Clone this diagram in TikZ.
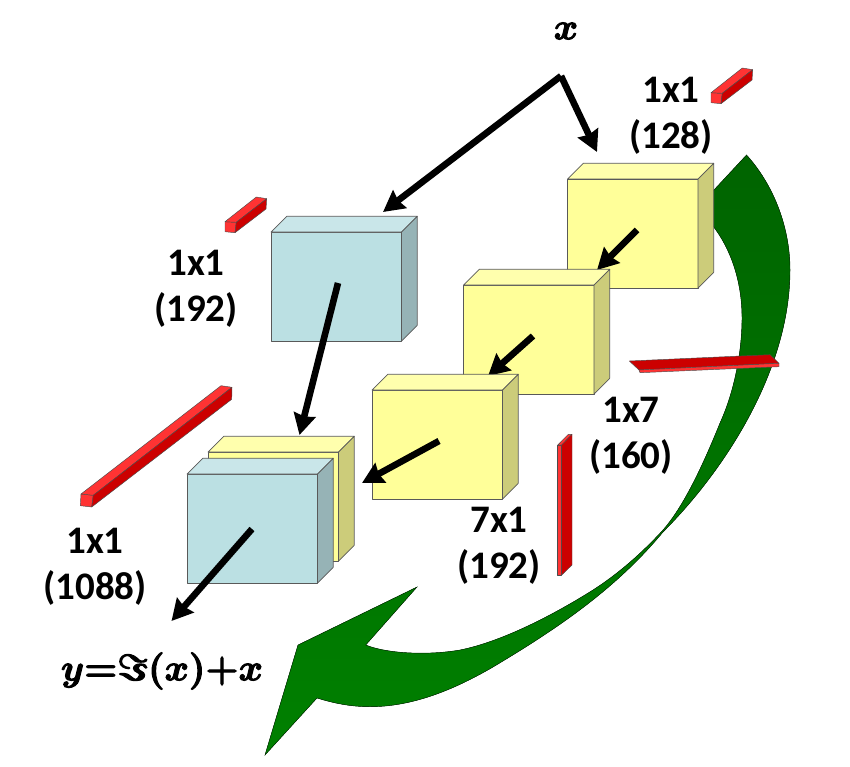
\documentclass[tikz,border=0pt]{standalone}
\usepackage{fontspec}
\usepackage{graphicx}
\setmainfont{Carlito}
\usetikzlibrary{arrows.meta}
\definecolor{yf}{HTML}{FFFF99}\definecolor{yt}{HTML}{FFFFAD}\definecolor{ys}{HTML}{CCCC7A}
\definecolor{bf}{HTML}{BBE0E3}\definecolor{bt}{HTML}{C9E6E9}\definecolor{bs}{HTML}{96B3B6}
\definecolor{rl}{HTML}{FF3333}\definecolor{rd}{HTML}{CC0000}
\definecolor{gtop}{HTML}{006400}\definecolor{gbot}{HTML}{008000}
\tikzset{
  facee/.style={draw=black!65,line width=0.7pt,line join=round},
  redf/.style={draw=black!70,line width=0.45pt,line join=round},
  flow/.style={line width=6.6pt,-{Stealth[length=21pt,width=22pt,inset=2pt]}},
  lab/.style={font=\fontsize{39}{46}\selectfont\bfseries,align=center,inner sep=0pt,text=black},
}
\newcommand{\heavy}[1]{\special{pdf:code 2 Tr 0.28 w}#1\special{pdf:code 0 Tr 1 w}}
% front colour, top colour, side colour, x, y of front top left
\newcommand{\boxthree}[5]{%
  \fill[#1,facee] (#4,#5) rectangle ++(130.5,109);
  \fill[#2,facee] (#4,#5) -- ++(15.7,-15.7) -- ++(130.5,0) -- ++(-15.7,15.7) -- cycle;
  \fill[#3,facee] (#4+130.5,#5) -- ++(15.7,-15.7) -- ++(0,109) -- ++(-15.7,15.7) -- cycle;
}
\newcommand{\shortbar}[2]{%
  \begin{scope}[shift={(#1,#2)}]
  \fill[rl,redf] (711,92.7) -- (722.3,93.3) -- (721,103.7) -- (711,102.7) -- cycle;
  \fill[rl,redf] (711,92.7) -- (742.3,68) -- (752.7,69.7) -- (722.3,93.3) -- cycle;
  \fill[rd,redf] (722.3,93.3) -- (752.7,69.7) -- (752,80) -- (721,103.7) -- cycle;
  \end{scope}
}
\begin{document}
\begin{tikzpicture}[x=1pt,y=-1pt]
\useasboundingbox (0,0) rectangle (850,767);
% green arrow
\fill[top color=gtop,bottom color=gbot,draw=black!60!gtop,line width=0.4pt,line join=miter]
  (746.5,155) .. controls (772,183) and (790,225) .. (790,270)
  .. controls (790,370) and (725,470) .. (663,532)
  .. controls (615,590) and (555,630) .. (493,667)
  .. controls (450,692) and (410,706.7) .. (370,706.7)
  .. controls (350,706.7) and (333,703) .. (317,698)
  -- (265,755) -- (298,645) -- (417,587) -- (365.7,645)
  .. controls (385,653) and (425,656) .. (460,650)
  .. controls (500,642) and (550,617) .. (593,590)
  .. controls (618,574) and (642,553) .. (663,530)
  .. controls (685,505) and (705,460) .. (720,423)
  .. controls (735,390) and (742,350) .. (742,318)
  .. controls (742,280) and (730,248) .. (713,226)
  -- (713,191) -- cycle;
% boxes and bars
\shortbar{0}{0}
\shortbar{-486}{129}
\fill[rl,redf] (81,494) -- (93.3,495.3) -- (91.7,507) -- (80.3,505.7) -- cycle;
\fill[rl,redf] (81,494) -- (221,385.7) -- (232,387.3) -- (93.3,495.3) -- cycle;
\fill[rd,redf] (93.3,495.3) -- (232,387.3) -- (231.7,399.3) -- (91.7,507) -- cycle;
\boxthree{yf}{yt}{ys}{567.5}{179}
\boxthree{bf}{bt}{bs}{271}{232}
\coordinate (root) at (561,76);
\coordinate (bluetop) at (383,212);
\coordinate (yeltop) at (597,152);
\draw[flow] (root) -- (bluetop);
\draw[flow] (root) -- (yeltop);
\coordinate (a1s) at (637,230);\coordinate (a1e) at (597,270);
\draw[flow] (a1s) -- (a1e);
\boxthree{yf}{yt}{ys}{463.5}{285}
\coordinate (a2s) at (533,336);\coordinate (a2e) at (488,376);
\draw[flow] (a2s) -- (a2e);
\boxthree{yf}{yt}{ys}{372}{390}
\boxthree{yf}{yt}{ys}{208}{452}
\boxthree{bf}{bt}{bs}{187}{474}
\coordinate (a3s) at (439,441);\coordinate (a3e) at (362,483);
\draw[flow] (a3s) -- (a3e);
\coordinate (a4s) at (338,283);\coordinate (a4e) at (299.5,435);
\draw[flow] (a4s) -- (a4e);
\coordinate (a5s) at (252,529);\coordinate (a5e) at (171.5,621);
\draw[flow] (a5s) -- (a5e);
% flat bars
\fill[rd,redf] (629.3,361) -- (770,354.7) -- (779,363.3) -- (639,370) -- cycle;
\fill[rl,redf] (639,370) -- (779,363.3) -- (779,366.7) -- (640,372.7) -- cycle;
\fill[rl,redf] (557.7,445) -- (561.7,445) -- (561.7,575) -- (557.7,575) -- cycle;
\fill[rl,redf] (557.7,445) -- (568.3,434.3) -- (572,434.3) -- (561.7,445) -- cycle;
\fill[rd,redf] (561.7,445) -- (572,434.3) -- (572,565) -- (561.7,575) -- cycle;
% labels
\node[lab] (l1) at (671,116) {1x1\\(128)};
\node[lab] (l2) at (196,289) {1x1\\(192)};
\node[lab] (l3) at (631,436) {1x7\\(160)};
\node[lab] (l4) at (499,546) {7x1\\(192)};
\node[lab] (l5) at (95,567) {1x1\\(1088)};
\node[inner sep=0pt] (xin) at (566,31) {\scalebox{3.7}{\boldmath\heavy{$x$}}};
\node[inner sep=0pt] (yout) at (162,671) {\scalebox{3.7}{\boldmath\heavy{$y{=}\Im(x){+}x$}}};
\end{tikzpicture}
\end{document}
